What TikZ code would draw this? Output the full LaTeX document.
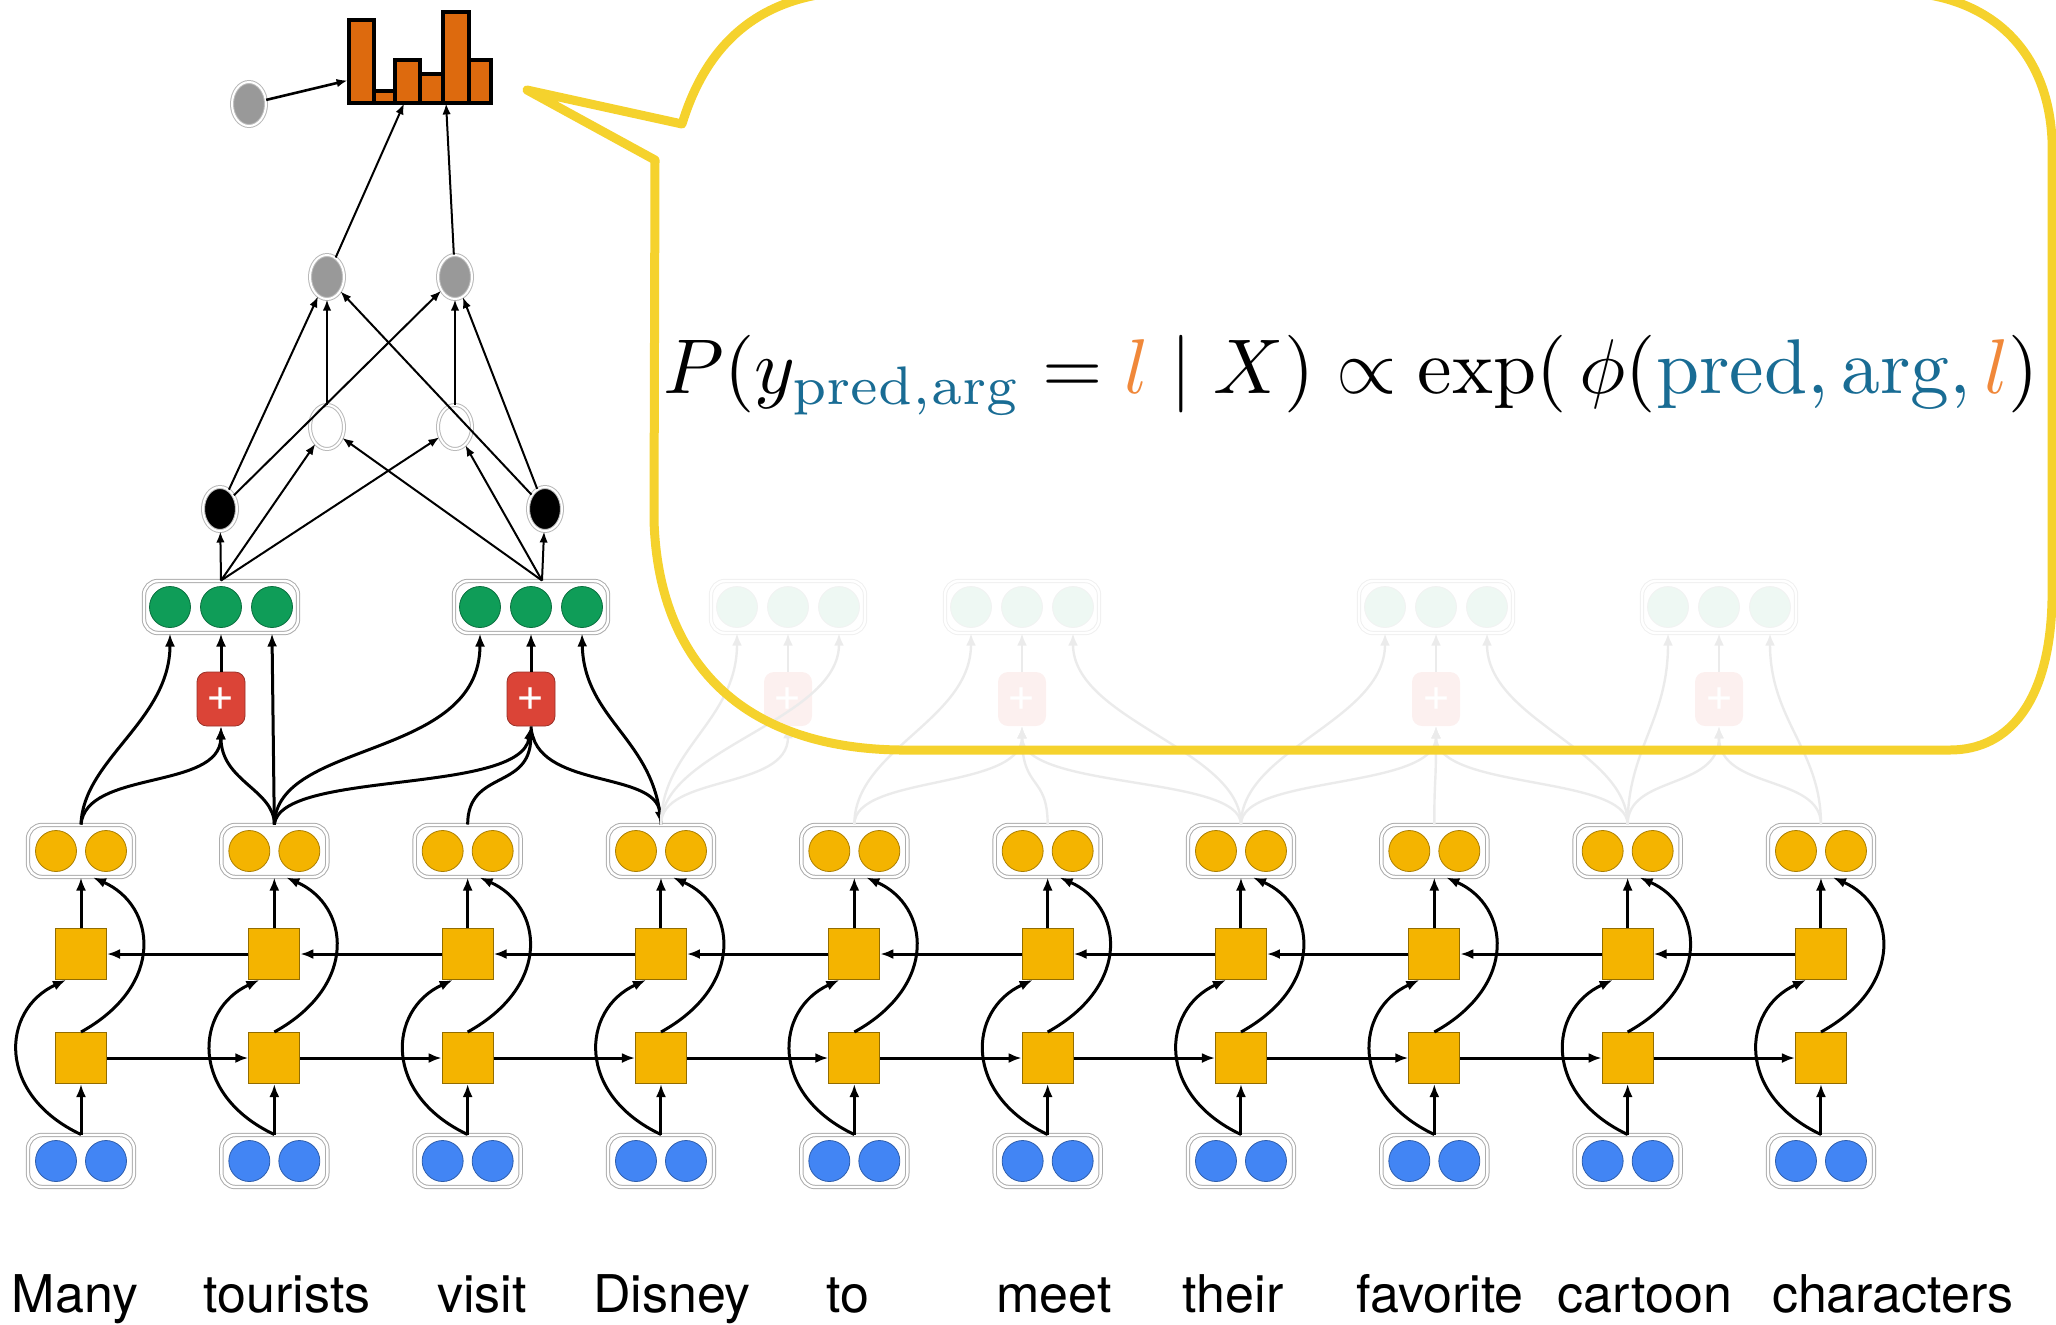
\documentclass[tikz,border=0pt]{standalone}
\usepackage{fontspec}
\newfontfamily\wordfont{TeX Gyre Heros}
\usetikzlibrary{positioning,arrows.meta,calc,shapes.geometric}
\definecolor{embblue}{RGB}{66,133,244}
\definecolor{hidyel}{RGB}{244,180,0}
\definecolor{spangreen}{RGB}{15,157,88}
\definecolor{plusred}{RGB}{219,68,55}
\definecolor{historange}{RGB}{221,106,14}
\definecolor{bubbleyel}{RGB}{245,210,45}
\definecolor{argblue}{RGB}{25,108,148}
\definecolor{labelorange}{RGB}{240,136,58}
\tikzset{
  pairb/.style={draw=gray!65, double=white, double distance=1.2pt, line width=0.5pt, rounded corners=7pt, minimum width=#1, minimum height=26pt, inner sep=0pt},
  pairb/.default=53pt,
  unit/.style={circle, draw=#1!70!black, fill=#1, line width=0.4pt, minimum size=20.5pt, inner sep=0pt},
  fadeunit/.style={circle, draw=gray!10, fill=spangreen!7, minimum size=20.5pt, inner sep=0pt},
  cellb/.style={draw=hidyel!60!black, fill=hidyel, line width=0.5pt, minimum size=25.5pt, inner sep=0pt},
  plusb/.style={draw=plusred!70!black, fill=plusred, rounded corners=5pt, minimum width=24pt, minimum height=27pt, inner sep=0pt, text=white, font=\wordfont\fontsize{24}{24}\selectfont},
  mlpn/.style={ellipse, draw=gray!55, double=white, double distance=1pt, line width=0.5pt, fill=#1, minimum width=17pt, minimum height=22pt, inner sep=0pt},
  arr/.style={-{Latex[length=6.5pt,width=5pt]}, line width=1.5pt},
  thinarr/.style={-{Latex[length=5.5pt,width=4.2pt]}, line width=1pt},
  faded/.style={-{Latex[length=6pt,width=5pt]}, line width=1.2pt, draw=black!8},
  bar/.style={draw=black, line width=2pt, fill=historange},
  word/.style={anchor=base, font=\wordfont\fontsize{26}{30}\selectfont, inner sep=0pt},
  bubble/.style={draw=bubbleyel, line width=4.5pt, line join=round},
}

\begin{document}
\begin{tikzpicture}[x=0.5pt, y=-0.5pt]
  \useasboundingbox (0,0) rectangle (2056,1324);
  \clip (0,0) rectangle (2056,1324);

  \foreach \i in {0,...,9} {
    \pgfmathsetmacro\x{81+193.33*\i}
    \node[pairb] (y\i) at (\x,851) {};
    \node[unit=hidyel] (ya\i) at (\x-25,851) {};
    \node[unit=hidyel] (yb\i) at (\x+25,851) {};
    \node[cellb] (b\i) at (\x,954) {};
    \node[cellb] (f\i) at (\x,1058) {};
    \node[pairb] (e\i) at (\x,1161) {};
    \node[unit=embblue] (ea\i) at (\x-25,1161) {};
    \node[unit=embblue] (eb\i) at (\x+25,1161) {};
    \draw[arr] (e\i) -- (f\i);
    \draw[arr] (b\i) -- (y\i);
    \draw[arr] (e\i.north) .. controls +(-85,-40) and +(-65,30) .. ([xshift=-7.5pt]b\i.south);
    \draw[arr] (f\i.north) .. controls +(85,-47) and +(63,28) .. ([xshift=6pt]y\i.south);
  }
  \foreach \i [evaluate=\i as \n using int(\i+1)] in {0,...,8} {
    \draw[arr] (f\i) -- (f\n);
    \draw[arr] (b\n) -- (b\i);
  }

  \foreach \w/\x [count=\k] in {Many/75, tourists/287, visit/482, Disney/672, to/848, meet/1054, their/1233, favorite/1440, cartoon/1645, characters/1893}
    \node[word] (w\k) at (\x,1312) {\w};

  \node[pairb=77pt] (sL) at (221,607) {};
  \node[unit=spangreen] (sLa) at (170,607) {};
  \node[unit=spangreen] (sLb) at (221,607) {};
  \node[unit=spangreen] (sLc) at (272,607) {};
  \node[pairb=77pt] (sR) at (531,607) {};
  \node[unit=spangreen] (sRa) at (480,607) {};
  \node[unit=spangreen] (sRb) at (531,607) {};
  \node[unit=spangreen] (sRc) at (582,607) {};
  \node[plusb] (pL) at (221,699) {+};
  \node[plusb] (pR) at (531,699) {+};

  \draw[arr] (y0.north) .. controls +(2,-65) and +(0,87) .. (sLa |- sL.south);
  \draw[arr] (y0.north) .. controls +(5,-55) and +(-1,64) .. (pL.south);
  \draw[arr] (y1.north) .. controls +(0,-35) and +(0,55) .. (pL.south);
  \draw[arr] (y1.north) -- (sLc |- sL.south);
  \draw[arr] (y1.north) .. controls +(2,-85) and +(0,127) .. (sRa |- sR.south);
  \draw[arr] (y1.north) .. controls +(6,-55) and +(-11,69) .. (pR.south);
  \draw[arr] (y2.north) .. controls +(0,-55) and +(-1,64) .. (pR.south);
  \draw[arr, {Latex[length=6.5pt,width=5pt]}-] (y3.north) .. controls +(-5,-55) and +(4,64) .. (pR.south);
  \draw[arr] (y3.north) .. controls +(-5,-85) and +(2,87) .. (sRc |- sR.south);
  \draw[arr] (pL) -- (sLb |- sL.south);
  \draw[arr] (pR) -- (sRb |- sR.south);

  \node[mlpn=black] (hL) at (220,509) {};
  \node[mlpn=black] (hR) at (545,509) {};
  \node[mlpn=white] (wL) at (327,427) {};
  \node[mlpn=white] (wR) at (455,427) {};
  \node[mlpn=black!40] (oL) at (327,277) {};
  \node[mlpn=black!40] (oR) at (455,277) {};
  \node[mlpn=black!40] (oS) at (249,104) {};
  \node[minimum width=72pt, minimum height=45.5pt, inner sep=0pt] (hist) at (420,57.5) {};
  \foreach \l/\r/\t in {349/374/20, 374/395/91, 395/420/60, 420/443/74, 443/469/12, 469/491/60}
    \draw[bar] (\l,103) rectangle (\r,\t);

  \foreach \n in {hL, wL, wR} \draw[thinarr] (sL.north) -- (\n);
  \foreach \n in {hR, wL, wR} \draw[thinarr] ([xshift=5.5pt]sR.north) -- (\n);
  \foreach \n in {oL, oR} {
    \draw[thinarr] (hL) -- (\n);
    \draw[thinarr] (hR) -- (\n);
  }
  \draw[thinarr] (wL) -- (oL);
  \draw[thinarr] (wR) -- (oR);
  \draw[thinarr] (oL) -- ($(hist.south west)!0.39!(hist.south east)$);
  \draw[thinarr] (oR) -- ($(hist.south west)!0.68!(hist.south east)$);
  \draw[thinarr, line width=1.3pt] (oS) -- ($(hist.south west)!0.25!(hist.north west)$);

  \foreach \c [count=\k] in {788,1022,1436,1719} {
    \node[pairb=77pt, draw=gray!12] (fs\k) at (\c,607) {};
    \node[fadeunit] (fsa\k) at (\c-51,607) {};
    \node[fadeunit] (fsb\k) at (\c,607) {};
    \node[fadeunit] (fsc\k) at (\c+51,607) {};
    \node[plusb, fill=plusred!8, draw=none] (fp\k) at (\c,699) {+};
  }
  \foreach \k/\a/\b in {1/3/3, 2/4/6, 3/6/8, 4/8/9} {
    \draw[faded] (y\a.north) .. controls +(0,-75) and +(0,87) .. (fsa\k |- fs\k.south);
    \draw[faded] (y\b.north) .. controls +(0,-75) and +(0,87) .. (fsc\k |- fs\k.south);
    \foreach \m in {\a,...,\b}
      \draw[faded] (y\m.north) .. controls +(0,-50) and +(0,64) .. (fp\k.south);
    \draw[faded] (fp\k) -- (fsb\k |- fs\k.south);
  }

  \coordinate (tip) at (527,90);
  \draw[bubble] (tip) -- (682,124) .. controls (700,65) and (740,0) .. (840,-8)
    -- (1900,-8) .. controls (1990,-5) and (2048,50) .. (2052,140)
    -- (2052,600) .. controls (2050,700) and (2010,750) .. (1950,750)
    -- (900,750) .. controls (740,748) and (658,660) .. (654,520)
    -- (655,160) -- cycle;

  \node[anchor=base west, inner sep=0pt, scale=3.88] (eq) at (662,393)
    {$P(y_{\color{argblue}\mathrm{pred,arg}} = {\color{labelorange}l} \mid X) \propto \exp(\,\phi({\color{argblue}\mathrm{pred}, \mathrm{arg}}\mathpunct{\color{argblue},} {\color{labelorange}l})$};
\end{tikzpicture}
\end{document}
